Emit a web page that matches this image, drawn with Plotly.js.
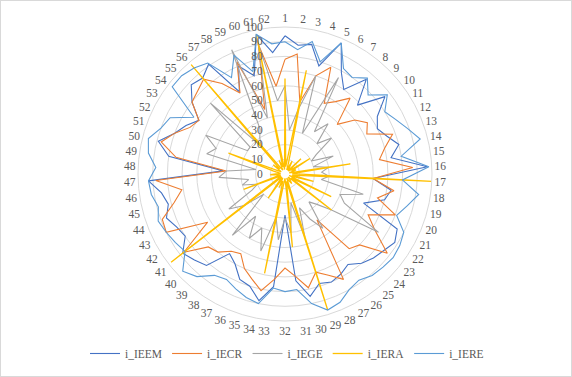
<!DOCTYPE html>
<html><head><meta charset="utf-8">
<script src="https://cdn.plot.ly/plotly-3.0.1.min.js"></script>
<style>html,body{margin:0;padding:0;background:#fff}#c{width:572px;height:377px;box-sizing:border-box;border:1px solid #d9d9d9}</style>
</head><body><div id="c"></div>
<script>
const categories = Array.from({length:62},(_,i)=>String(i+1));
const i_IEEM = [94,88,90,77,97,79,70,85,68,86,74,70,74,80,73,97,60,73,70,57,85,88,85,83,80,75,78,80,78,85,73,28,77,88,80,78,70,66,82,85,88,80,82,86,82,85,93,42,80,89,80,75,69,80,88,86,91,64,80,70,97,83];
const i_IECR = [78,82,50,70,79,55,60,68,49,60,66,62,78,70,65,87,60,75,65,80,63,72,88,70,67,38,82,75,70,79,70,64,72,81,75,70,62,64,70,72,87,62,90,89,78,71,88,40,75,87,80,72,69,80,82,85,75,63,83,46,90,60];
const i_IEGE = [60,30,45,70,30,75,35,45,30,40,25,20,35,20,30,25,30,25,55,40,45,75,40,30,25,45,35,25,45,20,40,30,45,30,55,40,50,35,55,20,35,45,25,20,30,25,45,40,20,55,50,60,30,30,70,25,30,35,92,40,90,50];
const i_IERA = [65,5,72,8,3,10,5,3,15,3,20,5,8,3,45,5,100,5,20,3,35,5,40,3,5,8,5,3,97,5,50,3,5,69,5,10,3,20,5,3,98,5,3,30,5,3,10,5,3,8,41,5,3,10,5,98,5,3,10,5,97,3];
const i_IERE = [90,85,92,80,97,82,80,86,78,88,80,84,89,95,80,98,80,92,86,81,90,92,93,92,91,88,90,95,97,90,79,80,78,90,88,85,82,84,92,96,86,88,90,92,89,92,93,88,94,96,90,87,73,97,97,95,92,75,88,73,97,89];
const seriesNames = ['i_IEEM','i_IECR','i_IEGE','i_IERA','i_IERE'];
const seriesData = [i_IEEM,i_IECR,i_IEGE,i_IERA,i_IERE];
const colors = ['#4472C4','#ED7D31','#A5A5A5','#FFC000','#5B9BD5'];
const traces = seriesData.map((d,i)=>({
  type:'scatterpolar', mode:'lines', name:seriesNames[i],
  r:d.concat([d[0]]), theta:categories.concat([categories[0]]),
  line:{color:colors[i], width: i===3?1.3:1.1}
}));
const W=572,H=377,cx=284,cy=173,R=147;
const layout = {
  width:W, height:H, margin:{l:0,r:0,t:0,b:0},
  paper_bgcolor:'rgba(0,0,0,0)', plot_bgcolor:'rgba(0,0,0,0)',
  font:{family:'Liberation Serif, serif', size:11, color:'#595959'},
  showlegend:true,
  legend:{orientation:'h', x:0.5, xanchor:'center', y:0.065, yanchor:'middle', font:{size:11.5,color:'#595959'}, traceorder:'normal', itemwidth:30},
  polar:{
    domain:{x:[(cx-R)/W,(cx+R)/W], y:[(H-cy-R)/H,(H-cy+R)/H]},
    bgcolor:'rgba(0,0,0,0)',
    gridshape:'circular',
    angularaxis:{direction:'clockwise', rotation:90, type:'category', showgrid:false, showline:true, linecolor:'#d9d9d9', ticks:'', tickfont:{size:11.5,color:'#595959'}},
    radialaxis:{range:[0,100], dtick:10, angle:90, tickangle:90, side:'counterclockwise', showline:false, ticks:'', gridcolor:'#d9d9d9', ticksuffix:'\u00a0\u00a0\u00a0\u00a0\u00a0\u00a0\u00a0', tickfont:{size:11.5,color:'#595959'}}
  }
};
Plotly.newPlot('c', traces, layout, {displayModeBar:false, staticPlot:true});
</script></body></html>
